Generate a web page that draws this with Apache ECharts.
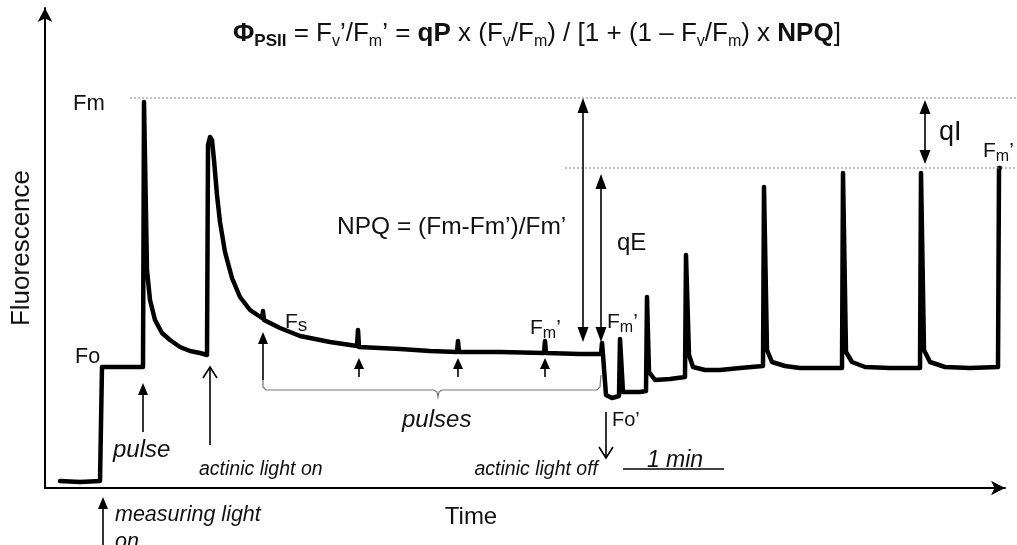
<!DOCTYPE html>
<html><head><meta charset="utf-8">
<script src="https://cdn.jsdelivr.net/npm/echarts@6/dist/echarts.min.js"></script>
<style>html,body{margin:0;padding:0;background:#fff}#c{width:1017px;height:545px}</style>
</head><body><div id="c"></div>
<script>
// Time (arbitrary units, ~1 min = 100 units) and fluorescence (arbitrary units)
const time = [15,35,55,56.5,57,75,98,99,100,102,105,110,117,125,135,145,155,162,163,165,167,169,172,175,180,187,195,205,217,218,219,235,255,285,312,313,314,355,385,412,413,414,455,499,500,501,535,556,557,558,561,567,574,575,577,578,595,601,602,603,604,610,625,640,641,642,644,648,660,675,695,718,719,720,722,727,740,755,775,797,798,799,801,807,820,845,875,876,877,879,885,900,925,953,954,955];
const fluor = [7,6,7,7,121,121,121,386,386,218,188,168,155,148,141,137,135,133,343,351,348,328,293,266,236,210,191,178,170,177,168,160,152,146,142,158,141,139,137,136,147,136,136,135,147,135,134,134,145,133,93,90,92,149,149,96,96,97,191,191,116,108,109,111,233,233,133,121,118,118,120,122,301,301,138,126,122,120,120,120,315,315,136,126,121,120,120,315,315,138,126,121,120,121,320,320];
const yLabel = 'Fluorescence';
const xLabel = 'Time';

const FONT = '"Liberation Sans", Arial, sans-serif';
const chart = echarts.init(document.getElementById('c'));
const data = time.map((t, i) => [t, fluor[i]]);

function txt(x, y, text, size, opt) {
  opt = opt || {};
  return {type: 'text', x: x, y: y, z: 20, rotation: opt.rotation || 0,
    style: Object.assign({text: text, font: (opt.italic ? 'italic ' : '') + (opt.bold ? 'bold ' : '') + size + 'px ' + FONT,
      fill: '#111', align: opt.align || 'left', verticalAlign: 'middle'}, opt.style || {})};
}
function richTxt(x, y, text, rich, opt) {
  opt = opt || {};
  return {type: 'text', x: x, y: y, z: 20,
    style: {text: text, rich: rich, fill: '#111', align: opt.align || 'left', verticalAlign: 'middle', fontFamily: FONT}};
}
function line(x1, y1, x2, y2, w, color, dash) {
  return {type: 'line', z: 15, shape: {x1: x1, y1: y1, x2: x2, y2: y2},
    style: {stroke: color || '#000', lineWidth: w || 1.5, lineDash: dash || null}};
}
function head(x1, y1, x2, y2, filled, L, W) {
  const dx = x2 - x1, dy = y2 - y1, len = Math.sqrt(dx*dx + dy*dy);
  const ux = dx/len, uy = dy/len, px = -uy, py = ux;
  const bx = x2 - ux*L, by = y2 - uy*L;
  const pts = [[bx + px*W/2, by + py*W/2], [x2, y2], [bx - px*W/2, by - py*W/2]];
  if (filled) return {type: 'polygon', z: 16, shape: {points: pts}, style: {fill: '#000'}};
  return {type: 'polyline', z: 16, shape: {points: pts}, style: {stroke: '#000', lineWidth: 1.6, fill: null}};
}
function arrow(x1, y1, x2, y2, o) {
  o = o || {};
  const L = o.L || 14, W = o.W || 11, filled = o.open ? false : true;
  const dx = x2 - x1, dy = y2 - y1, len = Math.sqrt(dx*dx+dy*dy);
  const ex = filled ? x2 - dx/len*(L-2) : x2, ey = filled ? y2 - dy/len*(L-2) : y2;
  const sx = o.both ? x1 + dx/len*(L-2) : x1, sy = o.both ? y1 + dy/len*(L-2) : y1;
  const out = [line(sx, sy, ex, ey, o.w || 1.6), head(x1, y1, x2, y2, filled, L, W)];
  if (o.both) out.push(head(x2, y2, x1, y1, filled, L, W));
  return out;
}

const n = {fontSize: 26, lineHeight: 32, verticalAlign: 'middle', fontFamily: FONT, color: '#111'};
const b = Object.assign({}, n, {fontWeight: 'bold'});
const s = {fontSize: 16, lineHeight: 16, verticalAlign: 'bottom', fontFamily: FONT, color: '#111'};
const sb = Object.assign({}, s, {fontWeight: 'bold', fontSize: 17});
const formula = '{b|Φ}{sb|PSII}{n| = F}{s|v}{n|\u2019/F}{s|m}{n|\u2019 = }{b|qP}{n| x (F}{s|v}{n|/F}{s|m}{n|) / [1 + (1 \u2013 F}{s|v}{n|/F}{s|m}{n|) x }{b|NPQ}{n|]}';

function fm(size) {
  return {a: {fontSize: size, lineHeight: size + 6, verticalAlign: 'middle', fontFamily: FONT, color: '#111'},
          m: {fontSize: Math.round(size*0.75), lineHeight: Math.round(size*0.75)+2, verticalAlign: 'bottom', fontFamily: FONT, color: '#111'}};
}

let g = [];
// dotted reference lines
g.push(line(130, 98, 1017, 98, 1, '#8a8a8a', [2, 2]));
g.push(line(565, 168, 1017, 168, 1, '#8a8a8a', [2, 2]));
// formula
g.push(richTxt(233, 34, formula, {n: n, b: b, s: s, sb: sb}));
// NPQ text
g.push(txt(337, 227, 'NPQ = (Fm-Fm\u2019)/Fm\u2019', 24.5));
g.push(txt(617, 243, 'qE', 24));
g.push(txt(939, 133, 'qI', 27));
// NPQ / qE / qI arrows
g = g.concat(arrow(583, 98, 583, 342, {both: true, L: 15, W: 11}));
g = g.concat(arrow(601, 174, 601, 342, {both: true, L: 15, W: 11}));
g = g.concat(arrow(925, 100, 925, 164, {both: true, L: 14, W: 11}));
// F labels
g.push(txt(73, 104, 'Fm', 22));
g.push(txt(75, 357, 'Fo', 21.5));
g.push(richTxt(983, 151, '{a|F}{m|m}{a|\u2019}', fm(21)));
g.push(richTxt(607, 322, '{a|F}{m|m}{a|\u2019}', fm(21)));
g.push(richTxt(530, 328, '{a|F}{m|m}{a|\u2019}', fm(21)));
g.push(richTxt(285, 322, '{a|F}{m|s}', {a: fm(21).a, m: {fontSize: 19, lineHeight: 22, verticalAlign: 'bottom', fontFamily: FONT, color: '#111'}}));
g.push(txt(612, 420, 'Fo\u2019', 20));
// pulse arrows
g = g.concat(arrow(143, 432, 143, 383, {L: 12, W: 10}));
g.push(txt(113, 450, 'pulse', 24, {italic: true}));
g = g.concat(arrow(210, 445, 210, 367, {open: true, L: 11, W: 14}));
g.push(txt(199, 470, 'actinic light on', 19.5, {italic: true}));
g = g.concat(arrow(103, 545, 103, 497, {L: 12, W: 10}));
g.push(txt(115, 515, 'measuring light', 21.5, {italic: true}));
g.push(txt(115, 542, 'on', 21.5, {italic: true}));
g = g.concat(arrow(263, 380, 263, 332, {L: 12, W: 10}));
g = g.concat(arrow(359, 377, 359, 358, {L: 11, W: 10}));
g = g.concat(arrow(458, 377, 458, 358, {L: 11, W: 10}));
g = g.concat(arrow(545, 377, 545, 358, {L: 11, W: 10}));
// brace
g.push({type: 'polyline', z: 15, shape: {points: [[263, 380], [263, 387], [266, 390], [434, 390], [437, 392], [438, 397], [439, 392], [442, 390], [597, 390], [600, 387], [601, 375]]},
  style: {stroke: '#777', lineWidth: 1.2, fill: null}});
g.push(txt(402, 420, 'pulses', 24, {italic: true}));
// actinic light off
g = g.concat(arrow(606, 412, 606, 458, {open: true, L: 11, W: 14}));
g.push(txt(598, 470, 'actinic light off', 19.5, {italic: true, align: 'right'}));
// 1 min scale bar
g.push(txt(675, 461, '1 min', 23, {italic: true, align: 'center'}));
g.push(line(623, 469, 724, 469, 1.5));
// axis labels
g.push(txt(471, 517, xLabel, 24, {align: 'center'}));
g.push(txt(22, 248, yLabel, 26, {align: 'center', rotation: Math.PI/2}));

chart.setOption({
  animation: false,
  backgroundColor: '#fff',
  grid: {left: 45, right: 12, top: 8, bottom: 57},
  xAxis: {type: 'value', min: 0, max: 960, axisLine: {onZero: false, lineStyle: {color: '#000', width: 2}, symbol: ['none', 'arrow'], symbolSize: [11, 14]},
    axisTick: {show: false}, axisLabel: {show: false}, splitLine: {show: false}},
  yAxis: {type: 'value', min: 0, max: 480, axisLine: {show: true, onZero: false, lineStyle: {color: '#000', width: 2}, symbol: ['none', 'arrow'], symbolSize: [11, 14]},
    axisTick: {show: false}, axisLabel: {show: false}, splitLine: {show: false}},
  series: [{type: 'line', data: data, showSymbol: false, symbol: 'none', lineStyle: {color: '#000', width: 4.5, join: 'round', cap: 'round'}, z: 10}],
  graphic: g
});
</script></body></html>
